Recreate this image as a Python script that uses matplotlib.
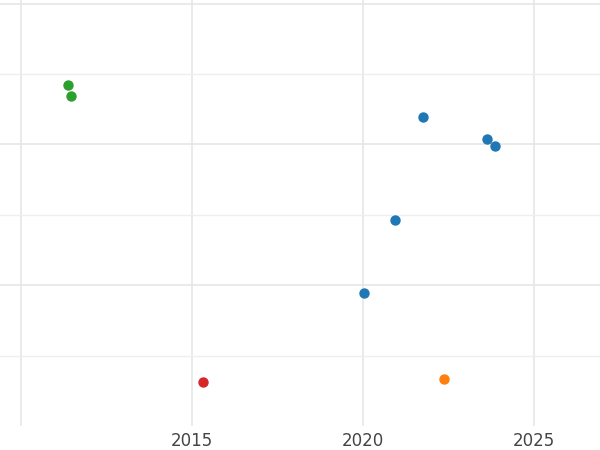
import matplotlib
matplotlib.use('Agg')
import matplotlib.pyplot as plt

green_x = [2011.37, 2011.46]
green_y = [4.84, 4.69]
blue_x = [2021.75, 2023.63, 2023.86, 2020.94, 2020.03]
blue_y = [4.39, 4.08, 3.98, 2.93, 1.89]
red_x = [2015.32]
red_y = [0.63]
orange_x = [2022.37]
orange_y = [0.67]

fig = plt.figure(figsize=(6, 4.5), dpi=100)
ax = fig.add_axes([0, 24/450, 1, 426/450])
ax.set_xlim(2009.39, 2026.93)
ax.set_ylim(0, 6.05)

ax.set_xticks([2010, 2015, 2020, 2025])
ax.set_xticklabels(['', '2015', '2020', '2025'])
ax.set_yticks([2, 4, 6])
ax.set_yticks([1, 3, 5], minor=True)
ax.set_yticklabels([])
ax.tick_params(which='both', length=0, labelsize=12, labelcolor='#444444', pad=4)
ax.grid(True, which='major', color='#e6e6e6', linewidth=1.2)
ax.grid(True, which='minor', axis='y', color='#efefef', linewidth=1.0)
ax.set_axisbelow(True)
for s in ax.spines.values():
    s.set_visible(False)

ax.scatter(green_x, green_y, s=42, color='#2ca02c', zorder=3)
ax.scatter(blue_x, blue_y, s=42, color='#1f77b4', zorder=3)
ax.scatter(red_x, red_y, s=42, color='#d62728', zorder=3)
ax.scatter(orange_x, orange_y, s=42, color='#ff7f0e', zorder=3)

fig.savefig('out.png')
